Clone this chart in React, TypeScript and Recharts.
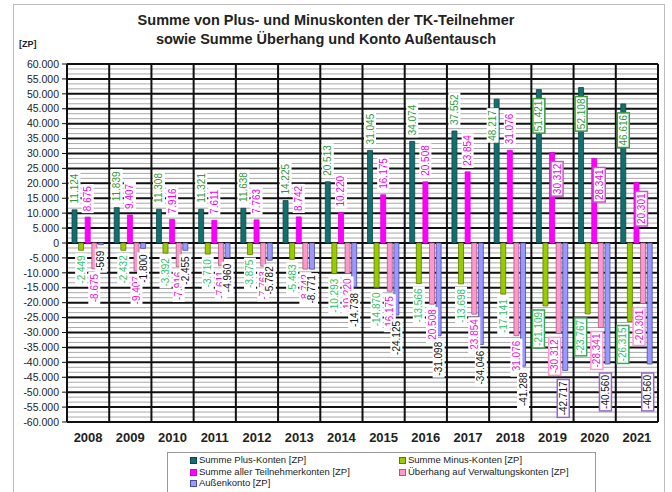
import { BarChart, Bar, XAxis, YAxis, CartesianGrid, LabelList } from "recharts";

const years = ["2008", "2009", "2010", "2011", "2012", "2013", "2014", "2015", "2016", "2017", "2018", "2019", "2020", "2021"];
const plusKonten = [11124, 11839, 11308, 11321, 11638, 14225, 20513, 31045, 34074, 37552, 48217, 51421, 52108, 46616];
const minusKonten = [-2449, -2432, -3392, -3710, -3875, -5483, -10293, -14870, -13566, -13698, -17141, -21109, -23767, -26315];
const teilnehmerKonten = [8675, 9407, 7916, 7611, 7763, 8742, 10220, 16175, 20508, 23854, 31076, 30312, 28341, 20301];
const ueberhang = [-8675, -9407, -7916, -7611, -7763, -8742, -10220, -16175, -20508, -23854, -31076, -30312, -28341, -20301];
const aussenkonto = [-569, -1800, -2455, -4960, -5782, -8771, -14738, -24125, -31098, -34046, -41288, -42717, -40560, -40560];
const yTicks = [-60000, -55000, -50000, -45000, -40000, -35000, -30000, -25000, -20000, -15000, -10000, -5000, 0, 5000, 10000, 15000, 20000, 25000, 30000, 35000, 40000, 45000, 50000, 55000, 60000];

const data = years.map((year, i) => ({
  year,
  plus: plusKonten[i],
  minus: minusKonten[i],
  teil: teilnehmerKonten[i],
  ueber: ueberhang[i],
  aussen: aussenkonto[i],
}));

// thin grey lines between the 5.000 steps
const minorTicks: number[] = [];
yTicks.slice(0, -1).forEach((t) => {
  minorTicks.push(t + 5000 / 3, t + 10000 / 3);
});

const FONT = "'Liberation Sans', Arial, sans-serif";

const fmt = (v: number) => {
  const neg = v < 0;
  const s = String(Math.abs(Math.round(v))).replace(/\B(?=(\d{3})+(?!\d))/g, ".");
  return (neg ? "-" : "") + s;
};

const textWidth = (s: string, size: number) => {
  let w = 0;
  for (const c of s) w += c === "." ? 0.278 : c === "-" ? 0.333 : 0.556;
  return w * size;
};

type LabelCfg = {
  color: string;
  border: string;
  boxedDx: number;
  gap: number;
  boxedGap: number;
  insideFrom?: number;
};

const labelCfg: Record<string, LabelCfg> = {
  plus: { color: "#2f9a3a", border: "#3a9a3a", boxedDx: 0, gap: 4, boxedGap: 4, insideFrom: 10 },
  minus: { color: "#2fbf6a", border: "#3aaa55", boxedDx: -7, gap: 3, boxedGap: 4 },
  teil: { color: "#ee00ee", border: "#cc55cc", boxedDx: 5, gap: 4, boxedGap: 4, insideFrom: 11 },
  ueber: { color: "#ee11cc", border: "#ff99cc", boxedDx: -4, gap: 3, boxedGap: 4 },
  aussen: { color: "#111", border: "#9966cc", boxedDx: -2, gap: 4, boxedGap: 9 },
};

const makeLabel = (key: string) => (props: any) => {
  const cfg = labelCfg[key];
  const x = Number(props.x);
  const y = Number(props.y);
  const width = Number(props.width);
  const height = Number(props.height);
  const v = Number(props.value);
  const index = Number(props.index);
  if (!isFinite(x) || !isFinite(v)) return null;
  const top = Math.min(y, y + height);
  const bottom = Math.max(y, y + height);
  const boxed = index >= 11;
  const text = fmt(v);
  const w = textWidth(text, 10) + 4;
  const h = 12;
  let dx = boxed ? cfg.boxedDx : 0;
  if (key === "plus" && index === 10) dx = -4;
  const cx = x + width / 2 + dx;
  let boxTop: number;
  if (v >= 0) {
    if (cfg.insideFrom !== undefined && index >= cfg.insideFrom) boxTop = top + 9;
    else boxTop = top - cfg.gap - w;
  } else {
    boxTop = bottom + (boxed ? cfg.boxedGap : cfg.gap);
  }
  return (
    <g transform={`translate(${cx},${boxTop + w}) rotate(-90)`}>
      <rect
        x={0}
        y={-h / 2}
        width={w}
        height={h}
        fill="#fff"
        stroke={boxed ? cfg.border : "none"}
        strokeWidth={boxed ? 1.5 : 0}
      />
      <text
        x={w / 2}
        y={0}
        textAnchor="middle"
        dominantBaseline="central"
        fontSize={10}
        fontFamily={FONT}
        fill={cfg.color}
      >
        {text}
      </text>
    </g>
  );
};

const series = [
  { key: "plus", name: "Summe Plus-Konten [ZP]", fill: "#146e6e", stroke: "#0b4545" },
  { key: "minus", name: "Summe Minus-Konten [ZP]", fill: "#99cc00", stroke: "#5a7a00" },
  { key: "teil", name: "Summe aller Teilnehmerkonten [ZP]", fill: "#ff00ff", stroke: "#dd00dd" },
  { key: "ueber", name: "Überhang auf Verwaltungskonten [ZP]", fill: "#ff99cc", stroke: "#a85a80" },
  { key: "aussen", name: "Außenkonto [ZP]", fill: "#9999ff", stroke: "#4a4aa0" },
];

const legendPos = [
  { left: 190, top: 460 },
  { left: 399, top: 460 },
  { left: 190, top: 472 },
  { left: 399, top: 472 },
  { left: 190, top: 483 },
];

export default function App() {
  return (
    <div style={{ position: "absolute", left: 0, top: 0, width: 672, height: 492, background: "#fff", overflow: "hidden", fontFamily: FONT }}>
      <div style={{ position: "absolute", left: 13, top: 4, width: 650, height: 520, border: "1px solid #bdbdbd" }} />
      <div style={{ position: "absolute", left: 0, width: 652, top: 11, textAlign: "center", fontWeight: "bold", fontSize: 14.5, lineHeight: "19px", color: "#222" }}>
        Summe von Plus- und Minuskonten der TK-Teilnehmer
        <br />
        sowie Summe Überhang und Konto Außentausch
      </div>
      <div style={{ position: "absolute", left: 19, top: 39, fontSize: 9, fontWeight: "bold", color: "#222" }}>[ZP]</div>
      <div style={{ position: "absolute", left: 0, top: 0 }}>
        <BarChart
          width={672}
          height={492}
          data={data}
          margin={{ top: 64, right: 14, left: 0, bottom: 45 }}
          barSize={5}
          barGap={1.6}
        >
          <CartesianGrid horizontalValues={minorTicks} vertical={false} stroke="#a8a8a8" strokeWidth={1} />
          <CartesianGrid
            horizontalValues={yTicks}
            stroke="#111"
            strokeWidth={2}
            verticalCoordinatesGenerator={({ offset }: any) =>
              years.map((_, i) => offset.left + (i * offset.width) / years.length).concat(offset.left + offset.width)
            }
          />
          <XAxis
            dataKey="year"
            axisLine={false}
            tickLine={false}
            height={25}
            tickMargin={5}
            tick={{ fontSize: 13, fontWeight: "bold", fill: "#222", fontFamily: FONT }}
            interval={0}
          />
          <YAxis
            width={67}
            domain={[-60000, 60000]}
            ticks={yTicks}
            interval={0}
            tickFormatter={fmt}
            axisLine={{ stroke: "#111", strokeWidth: 2 }}
            tickLine={{ stroke: "#111" }}
            tickSize={5}
            tickMargin={3}
            tick={{ fontSize: 10.5, fill: "#222", fontFamily: FONT }}
          />
          {series.map((s) => (
            <Bar key={s.key} dataKey={s.key} name={s.name} fill={s.fill} stroke={s.stroke} strokeWidth={0.8} isAnimationActive={false}>
              <LabelList dataKey={s.key} content={makeLabel(s.key)} />
            </Bar>
          ))}
        </BarChart>
      </div>
      <div style={{ position: "absolute", left: 167, top: 452, width: 427, height: 60, border: "1px solid #999" }} />
      {series.map((s, i) => (
        <div key={s.key} style={{ position: "absolute", left: legendPos[i].left, top: legendPos[i].top - 6, display: "flex", alignItems: "center", fontSize: 9.5, color: "#222", whiteSpace: "nowrap", lineHeight: "12px" }}>
          <span style={{ display: "inline-block", width: 5, height: 5, background: s.fill, border: `1px solid ${s.stroke}`, marginRight: 2 }} />
          {s.name}
        </div>
      ))}
    </div>
  );
}
